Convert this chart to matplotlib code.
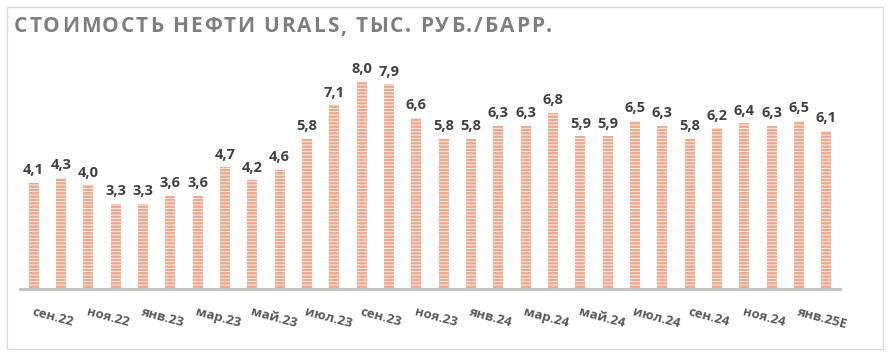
import matplotlib.pyplot as plt
from matplotlib.patches import Rectangle

months = ["сен.22", "окт.22", "ноя.22", "дек.22", "янв.23", "фев.23", "мар.23", "апр.23",
          "май.23", "июн.23", "июл.23", "авг.23", "сен.23", "окт.23", "ноя.23", "дек.23",
          "янв.24", "фев.24", "мар.24", "апр.24", "май.24", "июн.24", "июл.24", "авг.24",
          "сен.24", "окт.24", "ноя.24", "дек.24", "янв.25E", "фев.25E"]
values = [4.1, 4.3, 4.0, 3.3, 3.3, 3.6, 3.6, 4.7, 4.2, 4.6,
          5.8, 7.1, 8.0, 7.9, 6.6, 5.8, 5.8, 6.3, 6.3, 6.8,
          5.9, 5.9, 6.5, 6.3, 5.8, 6.2, 6.4, 6.3, 6.5, 6.1]
title = "СТОИМОСТЬ НЕФТИ URALS, ТЫС. РУБ./БАРР."

BAR = "#F2A78A"
TXT = "#404040"

plt.rcParams['font.family'] = ['Open Sans', 'DejaVu Sans']
plt.rcParams['hatch.linewidth'] = 0.6

fig = plt.figure(figsize=(8.91, 3.59), dpi=100)
fig.patches.append(Rectangle((7 / 891, 1 - 349 / 359), 876 / 891, 342 / 359,
                             transform=fig.transFigure, fill=False,
                             edgecolor="#D9D9D9", linewidth=1))

ax = fig.add_axes([20 / 891, 70 / 359, 820 / 891, 229 / 359])
x = list(range(len(values)))
ax.bar(x, values, width=0.37, color=BAR, edgecolor="white", linewidth=0, hatch="-----")

for i, v in zip(x, values):
    ax.annotate(f"{v:.1f}".replace(".", ","), (i, v), xytext=(0, 4), textcoords="offset points",
                ha="center", va="bottom", fontsize=10.5, fontweight="bold", color=TXT)

ax.set_xlim(-0.5, len(values) - 0.5)
ax.set_ylim(0, 8.84)
ax.set_yticks([])
for s in ["top", "right", "left"]:
    ax.spines[s].set_visible(False)
ax.spines["bottom"].set_color("#BFBFBF")
ax.spines["bottom"].set_linewidth(2)

ax.set_xticks(x[::2])
ax.set_xticklabels(months[::2], rotation=-15, ha="left", rotation_mode="anchor",
                   fontsize=9.5, fontweight="bold", color="#595959")
ax.tick_params(axis="x", length=0, pad=12)

# title with letter spacing, placed char by char
renderer = fig.canvas.get_renderer()
xpos = 14
spacing = 1.85
for ch in title:
    t = fig.text(xpos / 891, 1 - 27 / 359, ch, fontsize=15, fontweight="bold",
                 color="#7F7F7F", ha="left", va="center")
    if ch == " ":
        w = 5.5
    else:
        w = t.get_window_extent(renderer).width
    xpos += w + spacing

fig.savefig("out.png", dpi=100)
